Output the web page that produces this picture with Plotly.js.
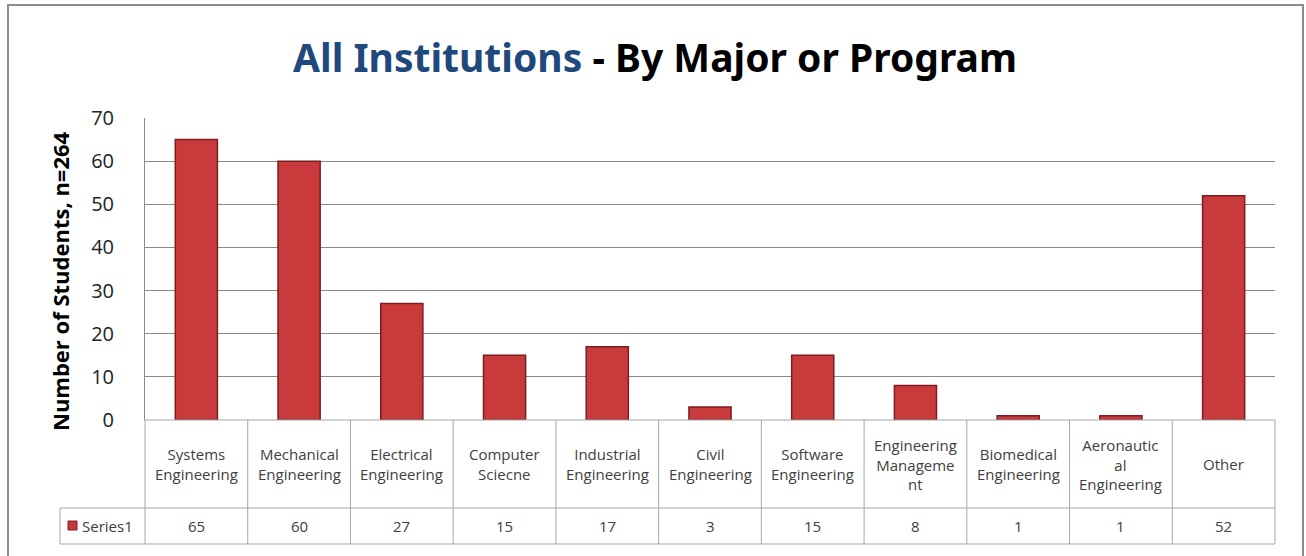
<!DOCTYPE html>
<html>
<head>
<meta charset="utf-8">
<script src="https://cdn.plot.ly/plotly-3.0.1.min.js"></script>
<style>
html,body{margin:0;padding:0;background:#fff;}
#chart{width:1306px;height:556px;}
</style>
</head>
<body>
<div id="chart"></div>
<script>
// ---- data ----
const categories = ["Systems Engineering","Mechanical Engineering","Electrical Engineering","Computer Sciecne","Industrial Engineering","Civil Engineering","Software Engineering","Engineering Management","Biomedical Engineering","Aeronautical Engineering","Other"];
const tableLabels = ["Systems<br>Engineering","Mechanical<br>Engineering","Electrical<br>Engineering","Computer<br>Sciecne","Industrial<br>Engineering","Civil<br>Engineering","Software<br>Engineering","Engineering<br>Manageme<br>nt","Biomedical<br>Engineering","Aeronautic<br>al<br>Engineering","Other"];
const values = [65, 60, 27, 15, 17, 3, 15, 8, 1, 1, 52];
const seriesName = "Series1";
const yTicks = [0,10,20,30,40,50,60,70];
const yTitle = "Number of Students, n=264";

// ---- layout geometry (pixels) ----
const W = 1306, H = 556;
const L = 145, R = 1275, T = 118, B = 420;
const pw = R - L, ph = B - T;
const px = v => (v - L) / pw;
const py = v => (B - v) / ph;
const font = "'Open Sans', 'Noto Sans', sans-serif";
const gridCol = "#8a8a8a";
const tabCol = "#a6a6a6";

const shapes = [];
const annotations = [];
function line(x0,y0,x1,y1,color,w){
  shapes.push({type:'line',xref:'paper',yref:'paper',x0:px(x0),y0:py(y0),x1:px(x1),y1:py(y1),line:{color:color,width:w||1},layer:'above'});
}
// outer chart border
shapes.push({type:'rect',xref:'paper',yref:'paper',x0:px(8),y0:py(560),x1:px(1303),y1:py(5),line:{color:'#8c8c8c',width:2},fillcolor:'rgba(0,0,0,0)'});

// data table
const n = categories.length;
const cw = pw / n;
const rowMid = 508, rowBot = 544;
line(L, B, R, B, tabCol);
line(60, rowMid, R, rowMid, tabCol);
line(60, rowBot, R, rowBot, tabCol);
line(60, rowMid, 60, rowBot, tabCol);
for (let k = 0; k <= n; k++) {
  const x = L + k * cw;
  line(x, B, x, rowBot, tabCol);
}
for (let i = 0; i < n; i++) {
  annotations.push({xref:'x',yref:'paper',x:categories[i],y:py((B+rowMid)/2),text:tableLabels[i],showarrow:false,
    font:{family:font,size:15,color:'#404040'},align:'center',yanchor:'middle'});
  annotations.push({xref:'x',yref:'paper',x:categories[i],y:py((rowMid+rowBot)/2),text:String(values[i]),showarrow:false,
    font:{family:font,size:15,color:'#404040'},yanchor:'middle'});
}
// legend key in table
shapes.push({type:'rect',xref:'paper',yref:'paper',x0:px(68),x1:px(77),y0:py(530),y1:py(521),fillcolor:'#c0393b',line:{color:'#8b1e1e',width:1},layer:'above'});
annotations.push({xref:'paper',yref:'paper',x:px(80),y:py((rowMid+rowBot)/2),text:seriesName,showarrow:false,xanchor:'left',yanchor:'middle',
  font:{family:font,size:15,color:'#404040'}});
// y axis title
annotations.push({xref:'paper',yref:'paper',x:px(60),y:py(281),text:'<b>'+yTitle+'</b>',textangle:-90,showarrow:false,
  xanchor:'center',yanchor:'middle',font:{family:font,size:22,color:'#000'}});

const trace = {
  type:'bar', x:categories, y:values, name:seriesName,
  width:0.41,
  marker:{color:'#c93a3c', line:{color:'#7e1c1f', width:1.5}},
  hoverinfo:'x+y'
};

const layout = {
  width:W, height:H,
  margin:{l:L, r:W-R, t:T, b:H-B, pad:0},
  paper_bgcolor:'#fff', plot_bgcolor:'#fff',
  showlegend:false,
  title:{
    text:'<b><span style="color:#1f497d">All Institutions</span> - By Major or Program</b>',
    font:{family:"'Noto Sans', sans-serif", size:39, color:'#000'},
    x:655/W, xanchor:'center', xref:'container', y:1-58/H, yanchor:'middle'
  },
  xaxis:{type:'category', showticklabels:false, showgrid:false, zeroline:false, showline:false, ticks:''},
  yaxis:{range:[0,70], tickvals:yTicks, ticktext:yTicks.map(String), showgrid:true, gridcolor:gridCol, gridwidth:1,
    zeroline:false, showline:true, linecolor:gridCol, linewidth:1, ticks:'', ticklabelstandoff:26,
    tickfont:{family:font, size:20, color:'#222'}
  },
  shapes:shapes,
  annotations:annotations,
  bargap:0.59
};

Plotly.newPlot('chart',[trace],layout,{displayModeBar:false, staticPlot:true});
</script>
</body>
</html>
